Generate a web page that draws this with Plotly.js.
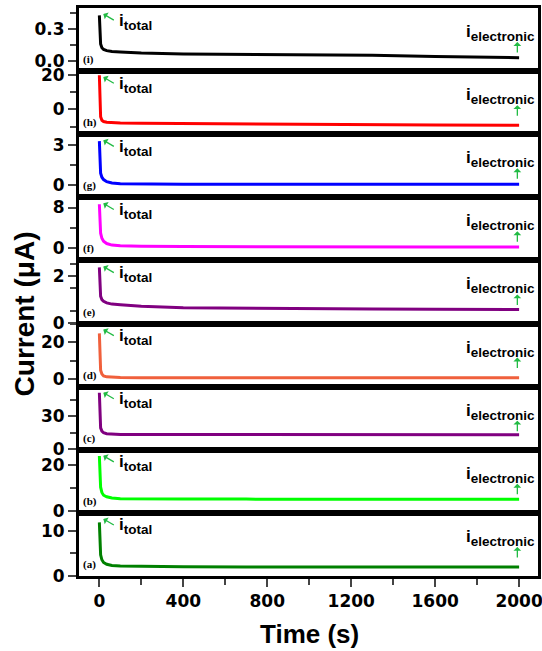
<!DOCTYPE html>
<html>
<head>
<meta charset="utf-8">
<script src="https://cdn.plot.ly/plotly-3.0.1.min.js"></script>
<style>html,body{margin:0;padding:0;background:#fff;}#chart{width:542px;height:651px;}</style>
</head>
<body>
<div id="chart"></div>
<script>
// Time samples (s)
const TIME = [0, 3, 6, 12, 20, 35, 60, 100, 200, 400, 700, 1000, 1300, 1600, 2000];
// Currents (µA) per panel, bottom (a) to top (i)
const curA = [11.9, 6.5, 4.7, 3.6, 3.0, 2.6, 2.35, 2.2, 2.1, 2.05, 2.0, 2.0, 2.0, 2.0, 2.0];
const curB = [23.8, 13.7, 10.2, 7.9, 6.7, 6.0, 5.5, 5.2, 5.1, 5.0, 5.0, 4.9, 4.9, 4.9, 4.9];
const curC = [51.5, 29, 19.5, 16.5, 15, 14.2, 13.8, 13.5, 13.4, 13.3, 13.2, 13.2, 13.1, 13.1, 13.1];
const curD = [24.7, 9, 4.8, 2.8, 1.8, 1.3, 1.0, 0.9, 0.85, 0.82, 0.8, 0.8, 0.8, 0.8, 0.8];
const curE = [2.36, 1.5, 1.14, 1.0, 0.93, 0.86, 0.81, 0.78, 0.72, 0.66, 0.63, 0.61, 0.6, 0.59, 0.58];
const curF = [8.65, 4.5, 2.9, 1.9, 1.3, 0.85, 0.55, 0.4, 0.3, 0.25, 0.2, 0.2, 0.18, 0.16, 0.15];
const curG = [3.33, 1.4, 0.9, 0.6, 0.42, 0.26, 0.16, 0.11, 0.08, 0.07, 0.06, 0.06, 0.06, 0.06, 0.06];
const curH = [19.6, 0.5, -4.2, -6.2, -6.9, -7.3, -7.6, -7.7, -7.9, -8.1, -8.3, -8.5, -8.7, -8.9, -9.0];
const curI = [0.43, 0.25, 0.16, 0.125, 0.11, 0.098, 0.09, 0.085, 0.075, 0.066, 0.064, 0.062, 0.055, 0.042, 0.032];
const panelLabels = ['(a)', '(b)', '(c)', '(d)', '(e)', '(f)', '(g)', '(h)', '(i)'];
const xTicks = [0, 400, 800, 1200, 1600, 2000];

const series = [curA, curB, curC, curD, curE, curF, curG, curH, curI];
const styles = [
  {color:'#008000', range:[0, 14],        dtick:10,  minor:{dtick:5}},
  {color:'#00ff00', range:[-1, 26.5],     dtick:20,  minor:{dtick:10}},
  {color:'#800080', range:[-0.5, 57],     dtick:30,  minor:{dtick:15}},
  {color:'#f0603c', range:[-4, 30],       dtick:20,  minor:{dtick:10}},
  {color:'#800080', range:[-0.01, 2.65],  dtick:2,   minor:{tickmode:'array', tickvals:[0.5, 1.5, 2.5]}},
  {color:'#ff00ff', range:[-2.5, 10.02],  dtick:8,   minor:{dtick:4}},
  {color:'#0000ff', range:[-0.92, 3.85],  dtick:3,   minor:{dtick:1.5}},
  {color:'#ff0000', range:[-14.2, 22.0],  dtick:20,  minor:{dtick:10}},
  {color:'#000000', range:[-0.095, 0.5],  dtick:0.3, minor:{dtick:0.15}, fmt:'.1f'}
];

const N = 9;
const green = '#22bb44';
const tickFont = {family:'DejaVu Sans', size:17, color:'#000', weight:'bold'};
const annFont = {family:'Liberation Sans', size:17, color:'#000', weight:'bold'};
const data = [];
const layout = {
  width:542, height:651,
  margin:{l:79, r:4, t:8, b:75},
  paper_bgcolor:'#fff', plot_bgcolor:'#fff',
  showlegend:false,
  annotations:[]
};

for (let k = 0; k < N; k++) {
  const xs = k === 0 ? '' : String(k + 1);
  const d0 = k / N, d1 = (k + 1) / N;
  data.push({
    type:'scatter', mode:'lines', x:TIME, y:series[k],
    xaxis:'x' + xs, yaxis:'y' + xs,
    line:{color:styles[k].color, width:3}, hoverinfo:'skip'
  });
  const xa = {
    domain:[0, 1], anchor:'y' + xs, range:[-97, 2090],
    showline:true, linewidth:3, linecolor:'#000', mirror:true,
    showgrid:false, zeroline:false
  };
  if (k === 0) {
    Object.assign(xa, {
      tickmode:'array', tickvals:xTicks, ticks:'outside', ticklen:8, tickwidth:2,
      minor:{dtick:200, tick0:0, ticks:'outside', ticklen:6, tickwidth:2},
      tickfont:tickFont, ticklabeloverflow:'allow'
    });
  } else {
    Object.assign(xa, {matches:'x', showticklabels:false, ticks:''});
  }
  layout['xaxis' + xs] = xa;
  const st = styles[k];
  const minor = Object.assign({ticks:'outside', ticklen:6, tickwidth:2, tick0:0}, st.minor);
  layout['yaxis' + xs] = {
    domain:[d0, d1], anchor:'x' + xs, range:st.range,
    tick0:0, dtick:st.dtick, tickformat:st.fmt || '',
    ticks:'outside', ticklen:8, tickwidth:2, minor:minor,
    showline:true, linewidth:3, linecolor:'#000', mirror:true,
    showgrid:false, zeroline:false, tickfont:tickFont, ticklabeloverflow:'allow'
  };
  const yd = 'y' + xs + ' domain';
  // panel label
  layout.annotations.push({
    xref:'x' + xs + ' domain', yref:yd, x:0, y:0, xanchor:'left', yanchor:'bottom',
    xshift:2, yshift:3, showarrow:false, text:panelLabels[k],
    font:{family:'Liberation Serif', size:11, color:'#000', weight:'bold'}
  });
  // i_total text
  layout.annotations.push({
    xref:'x' + xs + ' domain', yref:yd, x:0.0828, y:0.786, xanchor:'left', yanchor:'middle',
    showarrow:false, text:'i<sub><span style="font-size:13.5px">total</span></sub>',
    font:annFont
  });
  // i_total arrow
  layout.annotations.push({
    xref:'x' + xs + ' domain', yref:yd, x:0.053, y:0.905, text:'',
    showarrow:true, axref:'pixel', ayref:'pixel', ax:12, ay:7,
    arrowhead:1, arrowsize:1, arrowwidth:1.3, arrowcolor:green
  });
  // i_electronic text
  layout.annotations.push({
    xref:'x' + xs + ' domain', yref:yd, x:0.998, y:0.604, xanchor:'right', yanchor:'middle',
    showarrow:false, text:'i<sub><span style="font-size:13.5px">electronic</span></sub>',
    font:annFont
  });
  // i_electronic arrow
  layout.annotations.push({
    xref:'x' + xs + ' domain', yref:yd, x:0.955, y:0.461, text:'',
    showarrow:true, axref:'pixel', ayref:'pixel', ax:0, ay:12,
    arrowhead:1, arrowsize:1, arrowwidth:1.3, arrowcolor:green
  });
}

// axis titles
layout.annotations.push({
  xref:'paper', yref:'paper', x:0.503, y:-0.102, xanchor:'center', yanchor:'middle',
  showarrow:false, text:'Time (s)',
  font:{family:'Liberation Sans', size:26, color:'#000', weight:'bold'}
});
layout.annotations.push({
  xref:'paper', yref:'paper', x:-0.118, y:0.462, xanchor:'center', yanchor:'middle',
  showarrow:false, text:'Current (μA)', textangle:-90,
  font:{family:'Liberation Sans', size:28, color:'#000', weight:'bold'}
});

Plotly.newPlot('chart', data, layout, {displayModeBar:false, staticPlot:true});
</script>
</body>
</html>
